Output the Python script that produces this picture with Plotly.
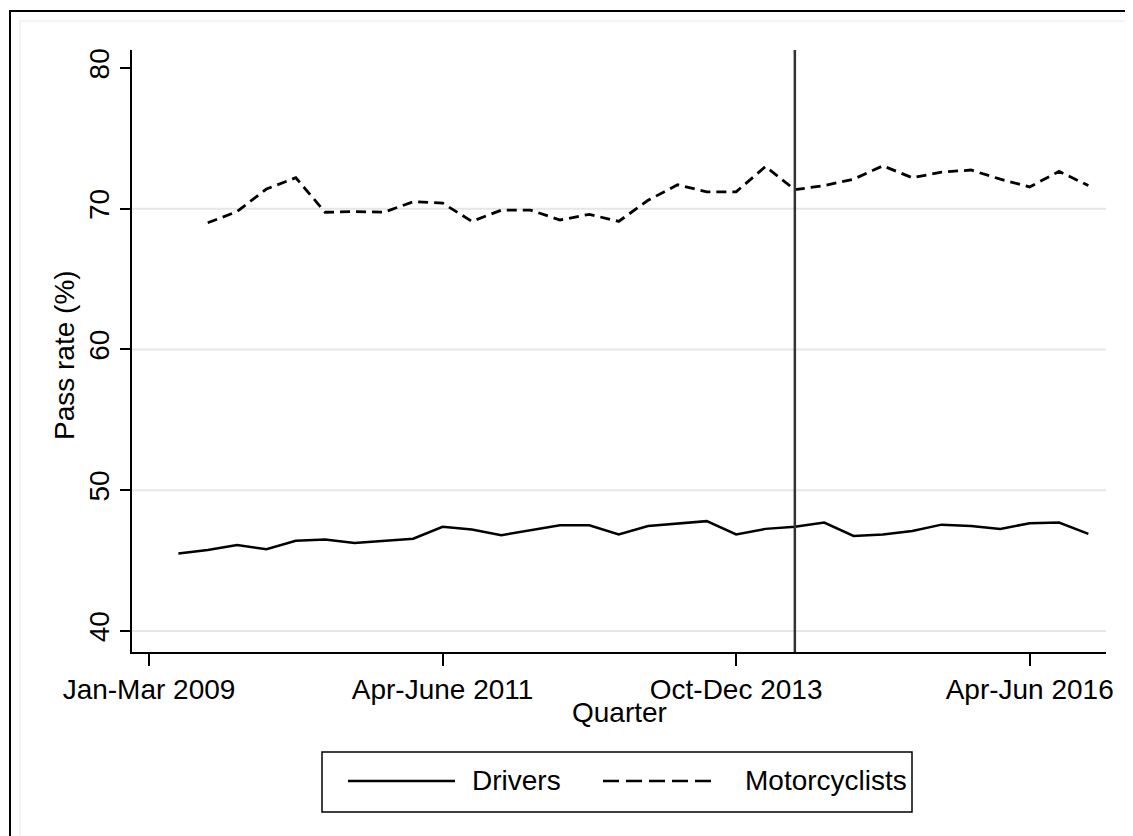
import plotly.graph_objects as go

# ---- data ----
driver_quarters = list(range(1, 33))
drivers = [45.5, 45.75, 46.1, 45.8, 46.4, 46.5, 46.25, 46.4, 46.55, 47.4,
           47.2, 46.8, 47.15, 47.5, 47.5, 46.85, 47.45, 47.6, 47.8, 46.85,
           47.25, 47.4, 47.7, 46.75, 46.85, 47.1, 47.55, 47.45, 47.25, 47.65,
           47.7, 46.9]
moto_quarters = list(range(2, 33))
motorcyclists = [69.0, 69.8, 71.4, 72.2, 69.75, 69.8, 69.75, 70.5, 70.4, 69.1,
                 69.9, 69.9, 69.2, 69.6, 69.1, 70.6, 71.7, 71.2, 71.2, 73.0,
                 71.35, 71.65, 72.1, 73.05, 72.2, 72.6, 72.75, 72.1, 71.55, 72.65,
                 71.65]
policy_quarter = 22
x_tickvals = [0, 10, 20, 30]
x_ticktext = ["Jan-Mar 2009", "Apr-June 2011", "Oct-Dec 2013", "Apr-Jun 2016"]
y_tickvals = [40, 50, 60, 70, 80]
y_gridvals = [40, 50, 60, 70]

FONT = "Liberation Sans, Arial, sans-serif"
FS = 28

# plot area in figure pixels
L, R, T, B = 124, 1098, 42, 644
W, H = 1133, 836


def px(x):
    return (x - L) / (R - L)


def py(y):
    return (B - y) / (B - T)


fig = go.Figure()
fig.add_trace(go.Scatter(x=driver_quarters, y=drivers, mode="lines", name="Drivers",
                         line=dict(color="black", width=2.5), showlegend=False))
fig.add_trace(go.Scatter(x=moto_quarters, y=motorcyclists, mode="lines", name="Motorcyclists",
                         line=dict(color="black", width=2.8, dash="10px,6px"), showlegend=False))

shapes = []
# gridlines
for g in y_gridvals:
    shapes.append(dict(type="line", xref="paper", yref="y", x0=0, x1=1, y0=g, y1=g,
                       line=dict(color="#e6e6e6", width=2), layer="below"))
# vertical policy line
shapes.append(dict(type="line", xref="x", yref="paper", x0=policy_quarter, x1=policy_quarter,
                   y0=0, y1=1, line=dict(color="#333333", width=2.5)))
# outer frames
shapes.append(dict(type="rect", xref="paper", yref="paper", x0=px(2), x1=px(1150),
                   y0=py(860), y1=py(3), line=dict(color="black", width=2)))
shapes.append(dict(type="rect", xref="paper", yref="paper", x0=px(12), x1=px(1150),
                   y0=py(860), y1=py(13), line=dict(color="#e8e8e8", width=1)))
# legend box
shapes.append(dict(type="rect", xref="paper", yref="paper", x0=px(314), x1=px(904),
                   y0=py(804), y1=py(744), line=dict(color="black", width=1.5)))
shapes.append(dict(type="line", xref="paper", yref="paper", x0=px(340), x1=px(447),
                   y0=py(773), y1=py(773), line=dict(color="black", width=2.5)))
shapes.append(dict(type="line", xref="paper", yref="paper", x0=px(595), x1=px(704),
                   y0=py(773), y1=py(773), line=dict(color="black", width=2.5, dash="16px,7px")))

annotations = [
    dict(text="Drivers", xref="paper", yref="paper", x=px(462), y=py(773), xanchor="left",
         yanchor="middle", showarrow=False, font=dict(family=FONT, size=FS, color="black")),
    dict(text="Motorcyclists", xref="paper", yref="paper", x=px(735), y=py(773), xanchor="left",
         yanchor="middle", showarrow=False, font=dict(family=FONT, size=FS, color="black")),
    dict(text="Quarter", xref="paper", yref="paper", x=0.5, y=py(704), xanchor="center",
         yanchor="middle", showarrow=False, font=dict(family=FONT, size=FS, color="black")),
    dict(text="Pass rate (%)", xref="paper", yref="paper", x=px(56), y=py(347), xanchor="center",
         yanchor="middle", textangle=-90, showarrow=False,
         font=dict(family=FONT, size=FS, color="black")),
]

fig.update_layout(
    width=W, height=H,
    margin=dict(l=L, r=W - R, t=T, b=H - B, pad=0),
    paper_bgcolor="white", plot_bgcolor="white",
    font=dict(family=FONT, size=FS, color="black"),
    shapes=shapes, annotations=annotations,
    xaxis=dict(range=[-0.58, 32.6], tickvals=x_tickvals, ticktext=x_ticktext,
               showgrid=False, zeroline=False, showline=True, linecolor="black", linewidth=1.5,
               ticks="outside", ticklen=12, tickwidth=1.5, tickcolor="black",
               tickfont=dict(family=FONT, size=FS, color="black")),
    yaxis=dict(range=[38.5, 81.28], tickvals=y_tickvals, tickangle=-90,
               showgrid=False, zeroline=False, showline=True, linecolor="black", linewidth=1.5,
               ticks="outside", ticklen=10, tickwidth=1.5, tickcolor="black",
               tickfont=dict(family=FONT, size=FS, color="black")),
)

fig.write_html("out.html")
